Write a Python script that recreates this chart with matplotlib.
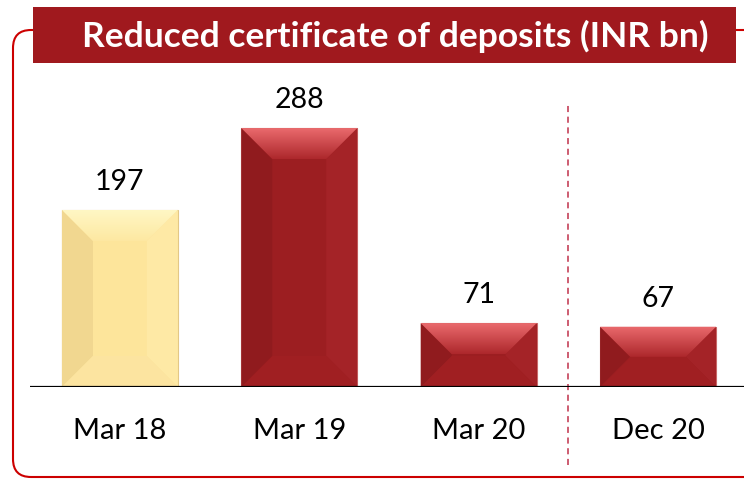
import matplotlib.pyplot as plt
import numpy as np
from matplotlib.patches import Polygon, Rectangle, FancyBboxPatch
from matplotlib.transforms import IdentityTransform

categories = ["Mar 18", "Mar 19", "Mar 20", "Dec 20"]
values = [197, 288, 71, 67]
title = "Reduced certificate of deposits (INR bn)"

W, H = 744, 479
fig = plt.figure(figsize=(W / 100, H / 100), dpi=100)
plt.rcParams['font.family'] = ['Lato', 'DejaVu Sans']

# axes placed in pixel terms: baseline at y=387, top at y=80
ax = fig.add_axes([30 / W, (H - 387) / H, 714 / W, 307 / H])
ax.set_xlim(-0.501, 3.479)
ax.set_ylim(0, 341.5)
for s in ax.spines.values():
    s.set_visible(False)
ax.set_yticks([])

red = dict(face="#9c1e21", top=("#ea6a6d", "#ad282c"), left="#901b1e",
           right="#a42327", bottom="#a01f22", edge="#c86a6a")
yellow = dict(face="#fde59b", top=("#fff7c4", "#fde8a2"), left="#f1d790",
              right="#fee9a5", bottom="#fce4a0", edge="#e3c886")
styles = [yellow, red, red, red]

bars = ax.bar(range(len(values)), values, width=0.646, color="none", zorder=2)

fig.canvas.draw()
px_per_x = ax.transData.transform((1, 0))[0] - ax.transData.transform((0, 0))[0]
px_per_y = ax.transData.transform((0, 1))[1] - ax.transData.transform((0, 0))[1]

for bar, st, v in zip(bars, styles, values):
    x0, w, h = bar.get_x(), bar.get_width(), bar.get_height()
    x1 = x0 + w
    d = min(31, h * px_per_y / 2, w * px_per_x / 2)
    dx, dy = d / px_per_x, d / px_per_y
    ax.add_patch(Rectangle((x0, 0), w, h, facecolor=st["face"], edgecolor=st["edge"], lw=0.8, zorder=2))
    ax.add_patch(Polygon([(x0, 0), (x0, h), (x0 + dx, h - dy), (x0 + dx, dy)],
                         closed=True, facecolor=st["left"], lw=0, zorder=3))
    ax.add_patch(Polygon([(x1, 0), (x1, h), (x1 - dx, h - dy), (x1 - dx, dy)],
                         closed=True, facecolor=st["right"], lw=0, zorder=3))
    ax.add_patch(Polygon([(x0, 0), (x1, 0), (x1 - dx, dy), (x0 + dx, dy)],
                         closed=True, facecolor=st["bottom"], lw=0, zorder=3))
    top = Polygon([(x0, h), (x1, h), (x1 - dx, h - dy), (x0 + dx, h - dy)],
                  closed=True, facecolor="none", lw=0, zorder=3)
    ax.add_patch(top)
    c1 = np.array(plt.matplotlib.colors.to_rgb(st["top"][0]))
    c2 = np.array(plt.matplotlib.colors.to_rgb(st["top"][1]))
    t = np.linspace(0, 1, 64)[:, None]
    grad = (c1 * (1 - t) + c2 * t)[:, None, :]
    im = ax.imshow(grad, extent=(x0, x1, h - dy, h), origin="upper", aspect="auto", zorder=3)
    im.set_clip_path(top)
    ax.annotate(str(v), (bar.get_x() + w / 2, h), xytext=(0, 20), textcoords="offset points",
                ha="center", va="center", fontsize=20.5, color="black", zorder=5)

ax.set_xlim(-0.501, 3.479)
ax.set_ylim(0, 341.5)
ax.axhline(0, color="black", lw=1.6, zorder=4)
ax.axvline(2.5, ymin=-0.254, ymax=0.919, color="#c0304a", lw=1.1, ls=(0, (4, 3)), clip_on=False)

ax.set_xticks(range(len(categories)))
ax.set_xticklabels(categories, fontsize=21)
ax.tick_params(axis="x", length=0, pad=22.5)

# frame and title banner, in pixel coordinates
frame = FancyBboxPatch((13, 2), 780, 447, boxstyle="round,pad=0,rounding_size=18",
                       transform=IdentityTransform(), facecolor="none", edgecolor="#cc0000",
                       lw=1.5, figure=fig)
fig.patches.append(frame)
banner = Rectangle((33, H - 63), 703, 56, transform=IdentityTransform(),
                   facecolor="#a0191e", edgecolor="none", figure=fig)
fig.patches.append(banner)
fig.text(395 / W, 1 - 36 / H, title, ha="center", va="center", color="white",
         fontsize=25.5, fontweight="bold")

fig.savefig("out.png", dpi=100)
